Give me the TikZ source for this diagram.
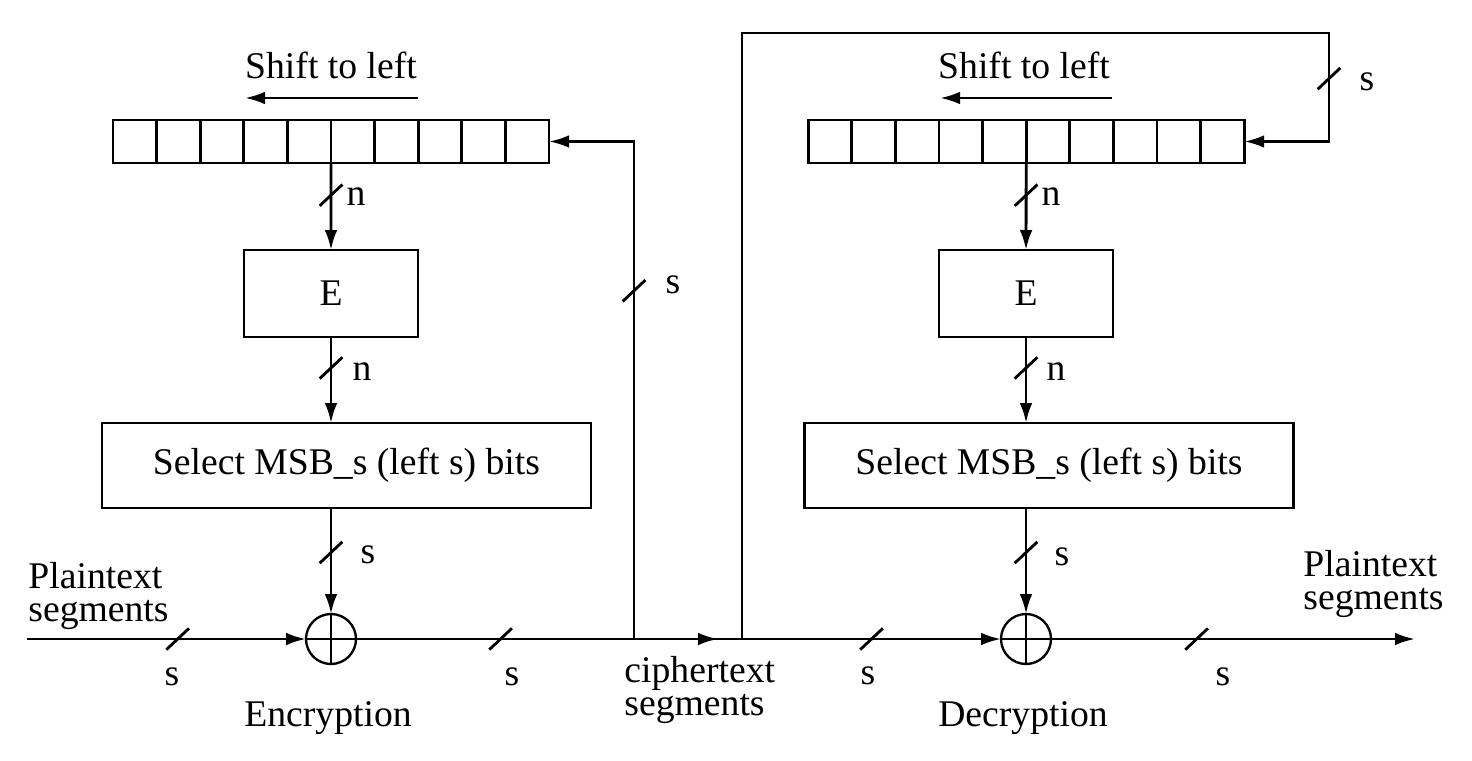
\documentclass[tikz,border=0pt]{standalone}
\usepackage{fontspec}
\setmainfont{Liberation Serif}
\usetikzlibrary{arrows.meta}

\begin{document}
\begin{tikzpicture}[
  x=0.3pt, y=-0.3pt,
  line width=0.85pt,
  font=\fontsize{11.3}{10}\selectfont,
  arrow/.style={-{Latex[length=6pt,width=3.8pt]}},
  cell/.style={draw, minimum width=13.08pt, minimum height=12.9pt, inner sep=0pt, outer sep=0pt},
  ebox/.style={draw, minimum width=52.2pt, minimum height=26.1pt, inner sep=0pt, outer sep=0pt},
  selbox/.style={draw, minimum width=146.7pt, minimum height=25.5pt, inner sep=0pt, outer sep=0pt},
  xorgate/.style={draw, circle, minimum size=15pt, inner sep=0pt, outer sep=0pt, line width=0.7pt,
    path picture={\draw (path picture bounding box.north) -- (path picture bounding box.south)
      (path picture bounding box.west) -- (path picture bounding box.east);}},
  note/.style={inner sep=0pt},
  busmark/.pic={\draw[-] (-3.4pt,-3.2pt) -- (3.4pt,3.2pt);}
]
\useasboundingbox (0,0) rectangle (1472,760);

% encryption side
\foreach \i in {1,...,10}
  \node[cell] (cl\i) at ({91.2+43.6*\i},141.5) {};
\node[note] (shiftL) at (331,65) {Shift to left};
\coordinate (shLa) at (418,98);
\coordinate (shLb) at (245,98);
\draw[arrow] (shLa) -- (shLb);

\node[ebox] (eL) at (331,293.5) {E};
\node[selbox] (selL) at (346.5,465.5) {Select MSB\_s (left s) bits};
\node[xorgate] (xorL) at (331,639) {};

\draw[arrow] (cl5.south east) -- (eL.north) pic[pos=.37]{busmark};
\draw[arrow] (eL.south) -- (eL.south |- selL.north) pic[pos=.36]{busmark};
\draw[arrow] (xorL |- selL.south) -- (xorL) pic[pos=.42]{busmark};

\node[note] (nL1) at (356,197) {n};
\node[note] (nL2) at (362,372) {n};
\node[note] (sL3) at (368,555) {s};

% decryption side
\foreach \i in {1,...,10}
  \node[cell] (cr\i) at ({786.4+43.6*\i},141.5) {};
\node[note] (shiftR) at (1024,65) {Shift to left};
\coordinate (shRa) at (1112,98);
\coordinate (shRb) at (940,98);
\draw[arrow] (shRa) -- (shRb);

\node[ebox] (eR) at (1026,293.5) {E};
\node[selbox] (selR) at (1049,465.5) {Select MSB\_s (left s) bits};
\node[xorgate] (xorR) at (1026,639) {};

\draw[arrow] (cr5.south east) -- (eR.north) pic[pos=.37]{busmark};
\draw[arrow] (eR.south) -- (eR.south |- selR.north) pic[pos=.36]{busmark};
\draw[arrow] (xorR |- selR.south) -- (xorR) pic[pos=.42]{busmark};

\node[note] (nR1) at (1051,197) {n};
\node[note] (nR2) at (1056,372) {n};
\node[note] (sR3) at (1062,557) {s};

% segment lines
\coordinate (inL) at (27,639);
\coordinate (jL) at (634,639);
\coordinate (ct) at (718,639);
\coordinate (jR) at (742,639);
\coordinate (topR) at (1329,33);
\coordinate (outR) at (1415,639);

\draw[arrow] (inL) -- (xorL) pic[pos=.54]{busmark};
\draw (xorL) -- (jL) pic[pos=.52]{busmark};
\draw[arrow] (jL) |- (cl10.east) pic[pos=.35]{busmark};
\draw (jL) -- (jR);
\draw[arrow] (jL) -- (ct);
\draw[arrow] (jR) -- (xorR) pic[pos=.5]{busmark};
\draw[arrow] (jR) |- (topR) |- (cr10.east) pic[pos=.21]{busmark};
\draw[arrow] (xorR) -- (outR) pic[pos=.4]{busmark};

\node[note] (sIn) at (172,677) {s};
\node[note] (sEnc) at (512,677) {s};
\node[note] (sFb) at (673,285) {s};
\node[note] (sDec) at (868,676) {s};
\node[note] (sOut) at (1223,677) {s};
\node[note] (sTop) at (1367,82) {s};

\node[note, align=left, anchor=west] (ptIn) at (27,596) {Plaintext\\segments};
\node[note, align=left, anchor=west] (ctxt) at (623,690) {ciphertext\\segments};
\node[note, align=left, anchor=west] (ptOut) at (1302,584) {Plaintext\\segments};
\node[note] (encL) at (328,718) {Encryption};
\node[note] (decL) at (1023,718) {Decryption};

\end{tikzpicture}
\end{document}
